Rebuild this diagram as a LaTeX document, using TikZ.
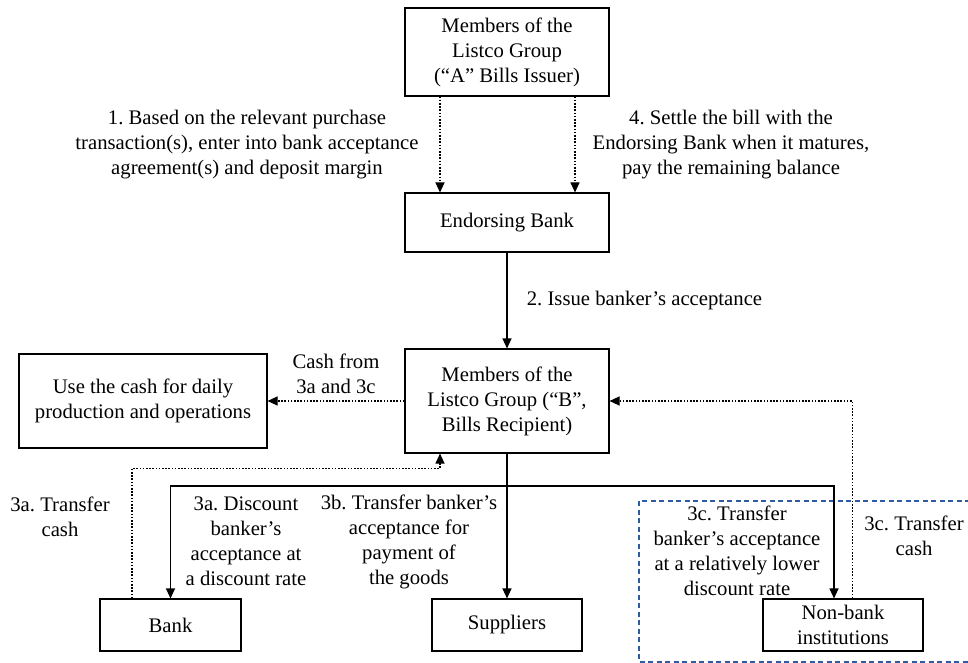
\documentclass[tikz,border=0pt]{standalone}
\usepackage{fontspec}
\setmainfont{Liberation Serif}
\usetikzlibrary{arrows.meta}

\definecolor{groupblue}{RGB}{46,92,160}

\begin{document}
\begin{tikzpicture}[x=1pt, y=-1pt,
	font=\fontsize{20.7}{25}\selectfont\frenchspacing,
	box/.style={draw, line width=1.1pt, align=center, inner sep=0pt},
	lbl/.style={align=center, inner sep=0pt},
	flow/.style={line width=1.1pt, -{Triangle[length=10pt,width=9pt]}},
	cash/.style={flow, dash pattern=on 1.6pt off 1.6pt}]
	
	\useasboundingbox (0,0) rectangle (968,663);
	
	\node[box, minimum width=204pt, minimum height=88pt] (issuer) at (507,52) {Members of the\\Listco Group\\(“A” Bills Issuer)};
	\node[box, minimum width=204pt, minimum height=59pt] (endorse) at (507,222.5) {Endorsing Bank};
	\node[box, minimum width=204pt, minimum height=104pt] (recipient) at (507,401) {Members of the\\Listco Group (“B”,\\Bills Recipient)};
	\node[box, minimum width=248pt, minimum height=94pt] (usecash) at (143,401) {Use the cash for daily\\production and operations};
	\node[box, minimum width=141pt, minimum height=52pt] (bank) at (170.5,625) {Bank};
	\node[box, minimum width=150pt, minimum height=52pt] (suppliers) at (507,625) {Suppliers};
	\node[box, minimum width=160pt, minimum height=52pt] (nonbank) at (843,625) {Non-bank\\institutions};
	
	\draw[groupblue, line width=2pt, dash pattern=on 5pt off 3.5pt] (639,501) rectangle (975,662);
	
	\node[lbl] (step1) at (247,145) {1. Based on the relevant purchase\\transaction(s), enter into bank acceptance\\agreement(s) and deposit margin};
	\node[lbl] (step4) at (731,145) {4. Settle the bill with the\\Endorsing Bank when it matures,\\pay the remaining balance};
	\node[lbl] (step2) at (644.5,301) {2. Issue banker’s acceptance};
	\node[lbl] (cashfrom) at (336,373.5) {Cash from\\3a and 3c};
	\node[lbl] (step3acash) at (60,516.5) {3a. Transfer\\cash};
	\node[lbl] (step3a) at (246,541.5) {3a. Discount\\banker’s\\acceptance at\\a discount rate};
	\node[lbl] (step3b) at (409,541.5) {3b. Transfer banker’s\\acceptance for\\payment of\\the goods};
	\node[lbl] (step3c) at (737,550.5) {3c. Transfer\\banker’s acceptance\\at a relatively lower\\discount rate};
	\node[lbl] (step3ccash) at (914,535.5) {3c. Transfer\\cash};
	
	\coordinate (split) at (507,486);
	
	\draw[cash] ([xshift=-67pt]issuer.south) -- ([xshift=-67pt]endorse.north);
	\draw[cash] ([xshift=68pt]issuer.south) -- ([xshift=68pt]endorse.north);
	\draw[flow] (endorse) -- (recipient);
	\draw[cash] (recipient) -- (usecash);
	\draw[flow] (recipient) -- (suppliers);
	\draw[flow] (split) -| (bank);
	\draw[flow] (split) -| ([xshift=-9pt]nonbank.north);
	\draw[cash] ([xshift=-38.5pt]bank.north) -- ++(0,-130) -| ([xshift=-67pt]recipient.south);
	\draw[cash] ([xshift=9.5pt]nonbank.north) |- (recipient.east);
\end{tikzpicture}
\end{document}
